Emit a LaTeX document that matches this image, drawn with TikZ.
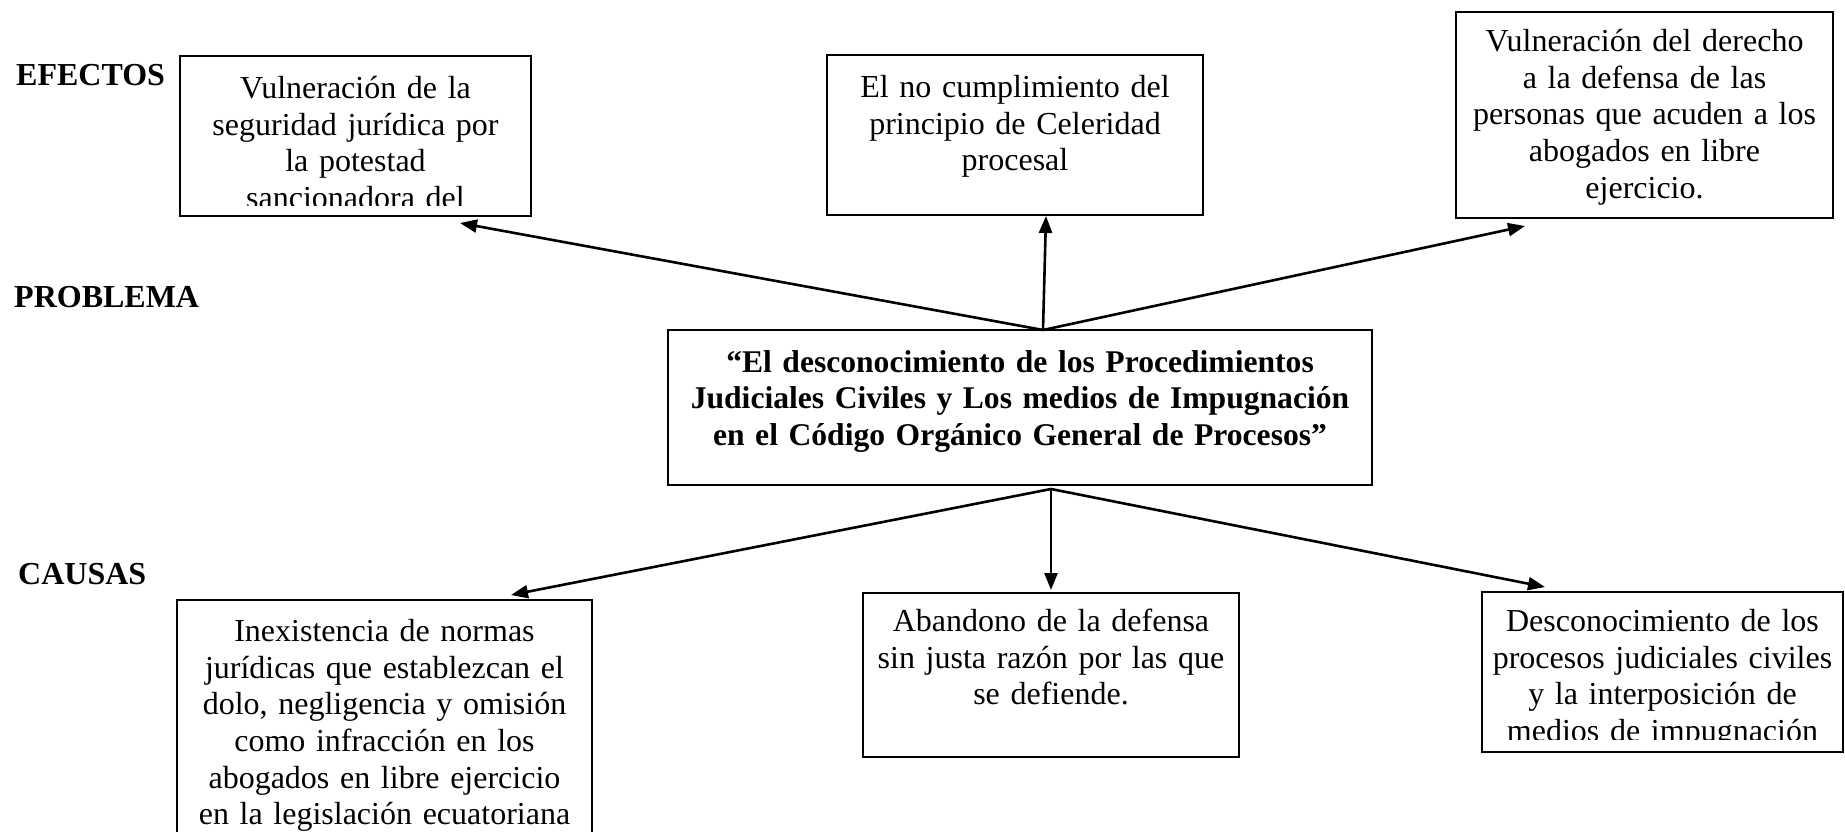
\documentclass[tikz,border=0pt]{standalone}
\usepackage{fontspec}
\setmainfont{Liberation Serif}
\usetikzlibrary{arrows.meta}
\begin{document}
\begin{tikzpicture}[x=1pt,y=-1pt,
  boxbase/.style={draw, line width=2pt, inner sep=0pt, outer sep=0pt, anchor=north west},
  intxt/.style={draw=none, fill=none, minimum width=0pt, minimum height=0pt, inner sep=0pt, outer sep=0pt, align=center, anchor=north, execute at begin node=\strut},
  txt/.style={intxt, font=\fontsize{32}{36.6}\selectfont},
  btxt/.style={intxt, font=\fontsize{31.6}{36.3}\selectfont\bfseries},
  lbl/.style={inner sep=0pt, anchor=west, font=\fontsize{32}{37}\selectfont\bfseries},
  arr/.style={line width=2.6pt, -{Triangle[length=17pt,width=13pt]}}
]
\useasboundingbox (0,0) rectangle (1845,832);

% labels
\node[lbl] (lef) at (16,75) {EFECTOS};
\node[lbl] (lpr) at (14,297) {PROBLEMA};
\node[lbl] (lca) at (18,574) {CAUSAS};

% effects
\node[boxbase, minimum width=351pt, minimum height=160pt, path picture={
  \clip (path picture bounding box.north west) rectangle ([yshift=11pt]path picture bounding box.south east);
  \node[txt, text width=351pt] (e1t) at ([yshift=-17pt]path picture bounding box.north)
    {Vulneración de la\\ seguridad jurídica por\\ la potestad\\ sancionadora del};
}] (e1) at (180,56) {};

\node[boxbase, minimum width=376pt, minimum height=160pt, path picture={
  \node[txt, text width=376pt] (e2t) at ([yshift=-17pt]path picture bounding box.north)
    {El no cumplimiento del\\ principio de Celeridad\\ procesal};
}] (e2) at (827,55) {};

\node[boxbase, minimum width=377pt, minimum height=206pt, path picture={
  \node[txt, text width=377pt] (e3t) at ([yshift=-14pt]path picture bounding box.north)
    {Vulneración del derecho\\ a la defensa de las\\ personas que acuden a los\\ abogados en libre\\ ejercicio.};
}] (e3) at (1456,12) {};

% problem
\node[boxbase, minimum width=704pt, minimum height=155pt, path picture={
  \node[btxt, text width=704pt] (pt) at ([yshift=-17pt]path picture bounding box.north)
    {“El desconocimiento de los Procedimientos\\ Judiciales Civiles y Los medios de Impugnación\\ en el Código Orgánico General de Procesos”};
}] (p) at (668,330) {};

% causes
\node[boxbase, minimum width=415pt, minimum height=270pt, path picture={
  \node[txt, text width=415pt] (c1t) at ([yshift=-16pt]path picture bounding box.north)
    {Inexistencia de normas\\ jurídicas que establezcan el\\ dolo, negligencia y omisión\\ como infracción en los\\ abogados en libre ejercicio\\ en la legislación ecuatoriana};
}] (c1) at (177,600) {};

\node[boxbase, minimum width=376pt, minimum height=164pt, path picture={
  \node[txt, text width=376pt] (c2t) at ([yshift=-13pt]path picture bounding box.north)
    {Abandono de la defensa\\ sin justa razón por las que\\ se defiende.};
}] (c2) at (863,593) {};

\node[boxbase, minimum width=361pt, minimum height=160pt, path picture={
  \clip (path picture bounding box.north west) rectangle ([yshift=13pt]path picture bounding box.south east);
  \node[txt, text width=361pt] (c3t) at ([yshift=-14pt]path picture bounding box.north)
    {Desconocimiento de los\\ procesos judiciales civiles\\ y la interposición de\\ medios de impugnación};
}] (c3) at (1482,592) {};

% connector points
\coordinate (ptop) at (1043,330);
\coordinate (pbot) at (1051,489);
\coordinate (e1tip) at (460,223);
\coordinate (e2tip) at (1046,216);
\coordinate (e3tip) at (1525,226);
\coordinate (c1tip) at (511,595);
\coordinate (c2tip) at (1051,590);
\coordinate (c3tip) at (1545,587);

\draw[arr] (ptop) -- (e1tip);
\draw[arr] (ptop) -- (e2tip);
\draw[arr] (ptop) -- (e3tip);
\draw[arr] (pbot) -- (c1tip);
\draw[arr] (pbot) -- (c2tip);
\draw[arr] (pbot) -- (c3tip);
\end{tikzpicture}
\end{document}
